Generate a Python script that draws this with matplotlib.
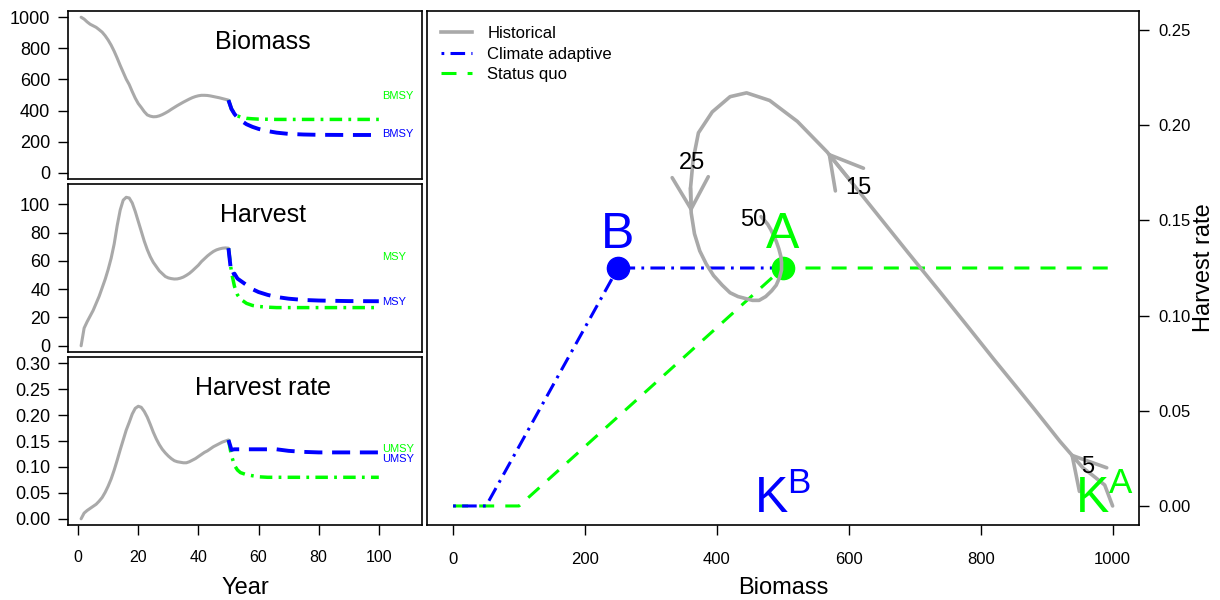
import matplotlib
matplotlib.use("Agg")
import matplotlib.pyplot as plt
from matplotlib.lines import Line2D
from matplotlib.ticker import FormatStrFormatter

plt.rcParams["font.family"] = ["Liberation Sans", "DejaVu Sans"]
plt.rcParams["mathtext.fontset"] = "custom"
plt.rcParams["mathtext.rm"] = "Liberation Sans"
plt.rcParams["lines.scale_dashes"] = False

# ---- data ----
years_hist = list(range(1, 51))
biomass_hist = [1000, 988, 970, 955, 945, 935, 920, 904, 881, 853,
                820, 781, 737, 690, 646, 602, 567, 522, 480, 445,
                420, 393, 372, 364, 360, 361, 366, 374, 384, 395,
                408, 420, 432, 443, 454, 464, 474, 483, 490, 495,
                498, 498, 497, 494, 490, 486, 482, 477, 472, 467]
harvest_hist = [0, 12.5, 17, 21, 25, 30, 35, 41, 47, 54,
                62, 72, 85, 96, 103, 105, 104.5, 101, 95, 88,
                81, 74, 68, 63, 59, 56, 53, 51, 49, 48,
                47.5, 47.2, 47.3, 47.8, 48.6, 49.8, 51.2, 53, 55, 57,
                59.5, 61.5, 63.5, 65.2, 66.7, 67.8, 68.5, 69, 69.2, 69]
hrate_hist = [0.000, 0.011, 0.016, 0.020, 0.024, 0.028, 0.034, 0.041, 0.051, 0.063,
              0.077, 0.094, 0.113, 0.133, 0.152, 0.171, 0.186, 0.202, 0.213, 0.217,
              0.215, 0.207, 0.196, 0.182, 0.167, 0.154, 0.143, 0.134, 0.127, 0.121,
              0.116, 0.112, 0.110, 0.109, 0.108, 0.108, 0.110, 0.113, 0.116, 0.120,
              0.124, 0.128, 0.131, 0.135, 0.139, 0.142, 0.145, 0.148, 0.150, 0.152]

proj_years = [50, 51, 52, 53, 54, 56, 58, 60, 63, 66, 70, 75, 80, 90, 100]
biomass_adapt = [467, 410, 378, 355, 338, 312, 295, 282, 268, 258, 250, 246, 244, 243, 243]
biomass_sq = [467, 410, 382, 366, 358, 350, 347, 345, 344, 343, 343, 343, 343, 343, 343]
harvest_adapt = [69, 50, 51, 47.5, 46, 43, 40, 38, 36, 34.5, 33.3, 32.4, 32, 31.6, 31.5]
harvest_sq = [69, 52, 42, 36, 33, 30, 28.5, 27.8, 27.3, 27, 27, 27, 27, 27, 27]
hrate_adapt = [0.152, 0.133, 0.134, 0.134, 0.134, 0.134, 0.134, 0.134, 0.134, 0.134,
               0.131, 0.129, 0.128, 0.128, 0.128]
hrate_sq = [0.152, 0.122, 0.103, 0.094, 0.089, 0.085, 0.083, 0.081, 0.080, 0.080,
            0.080, 0.080, 0.080, 0.080, 0.080]

# reference point labels (value, text) per panel: status quo, climate adaptive
ref_biomass = [(495, "BMSY"), (248, "BMSY")]
ref_harvest = [(62.5, "MSY"), (31.25, "MSY")]
ref_hrate = [(0.135, "UMSY"), (0.115, "UMSY")]

# harvest control rules
rule_adapt_B = [0, 50, 250, 500]
rule_adapt_U = [0, 0, 0.125, 0.125]
rule_sq_B = [0, 100, 500, 1000]
rule_sq_U = [0, 0, 0.125, 0.125]
point_A = (500, 0.125)
point_B = (250, 0.125)
K_A = 1000
K_B = 500

arrow_years = [5, 16, 25]
year_labels = ["5", "15", "25", "50"]
year_label_B = [962, 615, 363, 455]
year_label_U = [0.0205, 0.167, 0.180, 0.150]

GRAY = "#A9A9A9"
BLUE = "#0000FF"
GREEN = "#00FF00"
LEFT_BLUE = (0, (13, 7))
LEFT_GREEN = (0, (9, 4.5, 2, 4.5))
RIGHT_BLUE = (0, (2, 4.5, 10.5, 4.5))
RIGHT_GREEN = (0, (10.8, 8))

fig = plt.figure(figsize=(12.2, 6), dpi=100)
lx, lw_ = 68 / 1220, 354 / 1220
ax_b = fig.add_axes([lx, 1 - 179 / 600, lw_, 168 / 600])
ax_h = fig.add_axes([lx, 1 - 352 / 600, lw_, 168 / 600])
ax_u = fig.add_axes([lx, 1 - 525 / 600, lw_, 168 / 600])
ax_p = fig.add_axes([426.7 / 1220, 1 - 525 / 600, 712.3 / 1220, 514 / 600])

panels = [
    (ax_b, biomass_hist, biomass_sq, biomass_adapt, ref_biomass, "Biomass",
     (-40, 1040), list(range(0, 1001, 200)), "%d"),
    (ax_h, harvest_hist, harvest_sq, harvest_adapt, ref_harvest, "Harvest",
     (-4.4, 114.4), list(range(0, 101, 20)), "%d"),
    (ax_u, hrate_hist, hrate_sq, hrate_adapt, ref_hrate, "Harvest rate",
     (-0.012, 0.312), [0, 0.05, 0.10, 0.15, 0.20, 0.25, 0.30], "%.2f"),
]
for ax, hist, sq, adapt, refs, title, ylim, yt, fmt in panels:
    ax.plot(years_hist, hist, color=GRAY, lw=2.2, solid_capstyle="round")
    ax.plot(proj_years, sq, color=GREEN, lw=2.5, linestyle=LEFT_GREEN)
    ax.plot(proj_years, adapt, color=BLUE, lw=2.8, linestyle=LEFT_BLUE)
    ax.text(101, refs[0][0], refs[0][1], color=GREEN, fontsize=8, ha="left", va="center")
    ax.text(101, refs[1][0], refs[1][1], color=BLUE, fontsize=8, ha="left", va="center")
    ax.text(0.551, 0.815, title, transform=ax.transAxes, fontsize=18,
            ha="center", va="center")
    ax.set_xlim(-3.36, 114.36)
    ax.set_ylim(*ylim)
    ax.set_yticks(yt)
    ax.yaxis.set_major_formatter(FormatStrFormatter(fmt))
    ax.tick_params(axis="y", direction="out", length=7.2, width=1.0,
                   labelsize=13, pad=5.5)
    for s in ax.spines.values():
        s.set_linewidth(1.2)

for ax in (ax_b, ax_h):
    ax.tick_params(axis="x", bottom=False, labelbottom=False)
ax_u.set_xticks(list(range(0, 101, 20)))
ax_u.tick_params(axis="x", direction="out", length=7.2, width=1.0,
                 labelsize=11.5, pad=11)
ax_u.set_xlabel("Year", fontsize=17)
ax_u.xaxis.set_label_coords(0.5, -0.31)

# ---- phase plot ----
ax_p.plot(rule_sq_B, rule_sq_U, color=GREEN, lw=2.2, linestyle=RIGHT_GREEN)
ax_p.plot(rule_adapt_B, rule_adapt_U, color=BLUE, lw=2.2, linestyle=RIGHT_BLUE)
ax_p.plot(*point_A, "o", color=GREEN, ms=16)
ax_p.plot(*point_B, "o", color=BLUE, ms=16)
ax_p.plot(biomass_hist, hrate_hist, color=GRAY, lw=2.6, solid_capstyle="round")
for yr in arrow_years:
    i = yr - 1
    ax_p.annotate("", xy=(biomass_hist[i + 1], hrate_hist[i + 1]),
                  xytext=(biomass_hist[i], hrate_hist[i]),
                  arrowprops=dict(arrowstyle="->,head_length=2.3,head_width=1.3",
                                  color=GRAY, lw=2.6, shrinkA=0, shrinkB=0,
                                  mutation_scale=10))
for t, bx, uy in zip(year_labels, year_label_B, year_label_U):
    ax_p.text(bx, uy, t, fontsize=17, ha="center", va="center")

ax_p.text(point_A[0], 0.1355, "A", color=GREEN, fontsize=36, ha="center", va="baseline")
ax_p.text(point_B[0], 0.1355, "B", color=BLUE, fontsize=36, ha="center", va="baseline")
ax_p.text(K_B, -0.0037, r"$\mathrm{K}^{\mathrm{B}}$", color=BLUE, fontsize=36,
          ha="center", va="baseline")
ax_p.text(K_A - 12, -0.0037, r"$\mathrm{K}^{\mathrm{A}}$", color=GREEN, fontsize=36,
          ha="center", va="baseline")

ax_p.set_xlim(-40, 1040)
ax_p.set_ylim(-0.01, 0.26)
ax_p.set_xticks(list(range(0, 1001, 200)))
ax_p.set_yticks([0, 0.05, 0.10, 0.15, 0.20, 0.25])
ax_p.yaxis.set_major_formatter(FormatStrFormatter("%.2f"))
ax_p.yaxis.tick_right()
ax_p.tick_params(direction="out", length=7.2, width=1.0, labelsize=12)
ax_p.tick_params(axis="x", pad=12)
ax_p.tick_params(axis="y", pad=7)
for s in ax_p.spines.values():
    s.set_linewidth(1.2)
ax_p.set_xlabel("Biomass", fontsize=17)
ax_p.xaxis.set_label_coords(0.5, -0.101)
ax_p.yaxis.set_label_position("right")
ax_p.set_ylabel("Harvest rate", fontsize=17)
ax_p.yaxis.set_label_coords(1.0758, 0.5)

handles = [Line2D([], [], color=GRAY, lw=2.6),
           Line2D([], [], color=BLUE, lw=2.2, linestyle=RIGHT_BLUE),
           Line2D([], [], color=GREEN, lw=2.2, linestyle=RIGHT_GREEN)]
ax_p.legend(handles, ["Historical", "Climate adaptive", "Status quo"],
            loc="upper left", bbox_to_anchor=(0.0197, 0.971), frameon=False,
            fontsize=12, handlelength=1.9, handletextpad=0.9, labelspacing=0.34,
            borderpad=0, borderaxespad=0)

fig.savefig("out.png", dpi=100)
